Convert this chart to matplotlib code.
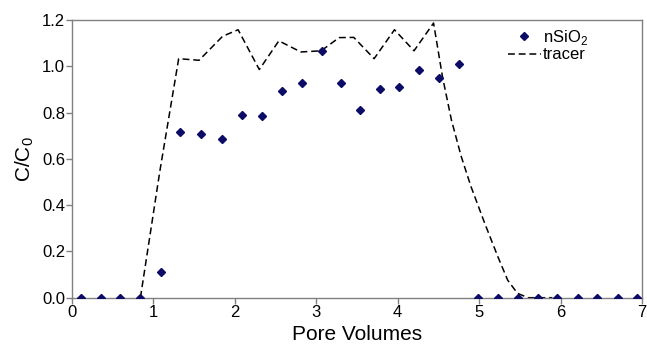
import numpy as np
import matplotlib
matplotlib.use('Agg')
import matplotlib.pyplot as plt

plt.rcParams['font.family'] = ['Liberation Sans', 'DejaVu Sans']

# nSiO2 breakthrough points
pv_nsio2 = [0.11, 0.355, 0.595, 0.84, 1.09, 1.325, 1.585, 1.84, 2.085, 2.33,
            2.575, 2.82, 3.065, 3.305, 3.535, 3.78, 4.02, 4.265, 4.51, 4.755,
            4.99, 5.23, 5.48, 5.72, 5.96, 6.21, 6.45, 6.70, 6.94]
c_nsio2 = [0.0, 0.0, 0.0, 0.0, 0.11, 0.714, 0.706, 0.688, 0.79, 0.786,
           0.895, 0.93, 1.068, 0.93, 0.81, 0.90, 0.91, 0.984, 0.95, 1.012,
           0.0, 0.0, 0.0, 0.0, 0.0, 0.0, 0.0, 0.0, 0.0]

# tracer curve
pv_tracer = [0.84, 1.08, 1.31, 1.56, 1.85, 2.04, 2.30, 2.54, 2.81, 3.06,
             3.28, 3.46, 3.71, 3.96, 4.20, 4.44, 4.55, 4.66, 4.78, 4.90,
             5.07, 5.23, 5.35, 5.47, 5.60, 5.90]
c_tracer = [0.0, 0.55, 1.033, 1.026, 1.13, 1.158, 0.986, 1.11, 1.062, 1.067,
            1.124, 1.125, 1.033, 1.158, 1.067, 1.187, 0.954, 0.767, 0.61, 0.48,
            0.32, 0.177, 0.076, 0.019, 0.0, 0.0]

fig = plt.figure(figsize=(6.47, 3.46), dpi=100)
ax = fig.add_axes([0.1113, 0.1396, 0.881, 0.8025])

ax.plot(pv_nsio2, c_nsio2, linestyle='none', marker='D', markersize=4.2,
        color='#0c0c66', label='nSiO$_\\mathregular{2}$', zorder=3)
ax.plot(pv_tracer, c_tracer, linestyle=(0, (4.5, 2.5)), color='black',
        linewidth=1.1, label='tracer', zorder=2)

ax.set_xlim(0, 7)
ax.set_ylim(0, 1.2)
ax.set_xticks(np.arange(0, 8, 1))
ax.set_yticks(np.arange(0, 1.21, 0.2))
ax.set_yticklabels([f'{v:.1f}' for v in np.arange(0, 1.21, 0.2)])

for s in ax.spines.values():
    s.set_color('#808080')
    s.set_linewidth(1.0)
ax.tick_params(axis='both', colors='#808080', labelcolor='black',
               labelsize=12, length=4, width=1, pad=1)

ax.set_xlabel('Pore Volumes', fontsize=15, labelpad=4)
ax.set_ylabel('C/C$_\\mathregular{0}$', fontsize=15, labelpad=4)

leg = ax.legend(loc='upper right', bbox_to_anchor=(0.925, 1.015), frameon=False,
                fontsize=12, handlelength=2.0, handletextpad=0.1,
                labelspacing=0.05, borderaxespad=0.3)

fig.savefig('out.png', dpi=100)
